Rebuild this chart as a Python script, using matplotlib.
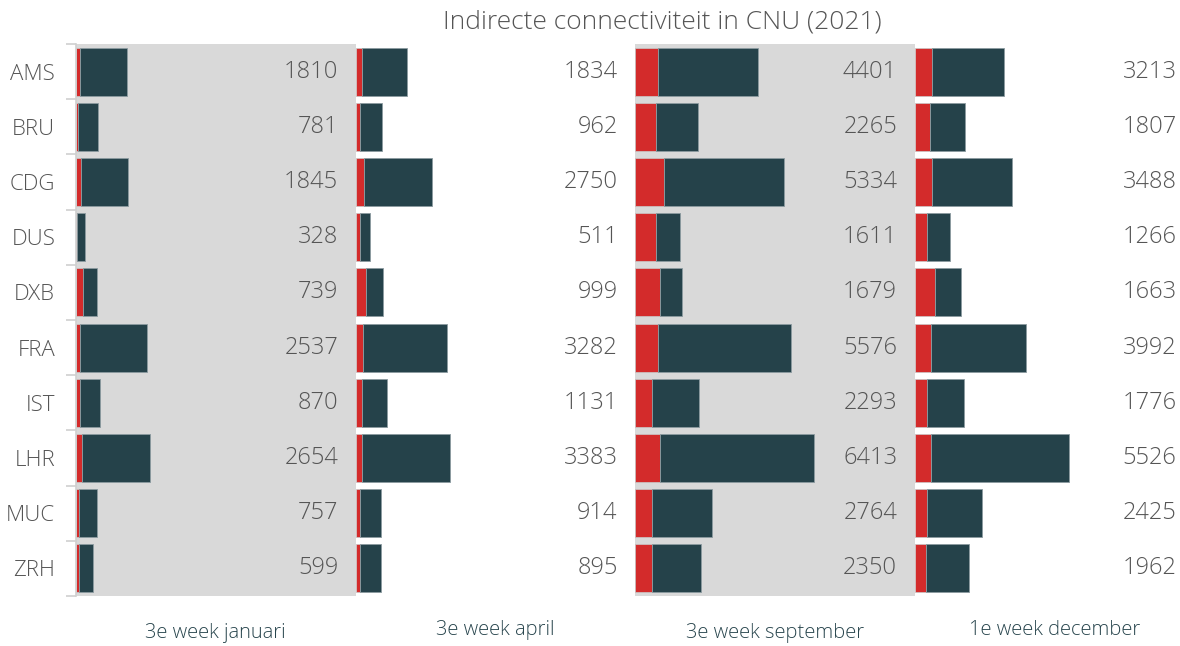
import matplotlib
matplotlib.use("Agg")
import matplotlib.pyplot as plt
import numpy as np

plt.rcParams['font.family'] = ['Open Sans', 'DejaVu Sans']
plt.rcParams['font.weight'] = 'light'

# data
airports = ['AMS', 'BRU', 'CDG', 'DUS', 'DXB', 'FRA', 'IST', 'LHR', 'MUC', 'ZRH']
periods = ['3e week januari', '3e week april', '3e week september', '1e week december']

totals_jan = [1810, 781, 1845, 328, 739, 2537, 870, 2654, 757, 599]
totals_apr = [1834, 962, 2750, 511, 999, 3282, 1131, 3383, 914, 895]
totals_sep = [4401, 2265, 5334, 1611, 1679, 5576, 2293, 6413, 2764, 2350]
totals_dec = [3213, 1807, 3488, 1266, 1663, 3992, 1776, 5526, 2425, 1962]

red_jan = [140, 70, 170, 45, 240, 130, 130, 200, 95, 95]
red_apr = [215, 155, 310, 165, 370, 275, 215, 250, 145, 155]
red_sep = [835, 765, 1030, 740, 885, 810, 595, 905, 595, 620]
red_dec = [635, 550, 610, 440, 750, 595, 465, 585, 440, 405]

totals = [totals_jan, totals_apr, totals_sep, totals_dec]
reds = [red_jan, red_apr, red_sep, red_dec]

RED = '#d32b2b'
TEAL = '#25424a'
GREY_BG = '#d9d9d9'
TXT = '#555555'

W, H = 1180, 646
fig = plt.figure(figsize=(W / 100, H / 100), dpi=100, facecolor='white')

left_px = [76, 355.5, 635, 914.5]
panel_w = 279.5
top_px, bot_px = 44, 596
label_y = [633, 630, 633, 630]

y = np.arange(len(airports))

for i in range(4):
    ax = fig.add_axes([left_px[i] / W, (H - bot_px) / H, panel_w / W, (bot_px - top_px) / H])
    ax.set_facecolor(GREY_BG if i % 2 == 0 else 'white')
    tot = np.array(totals[i])
    red = np.array(reds[i])
    ax.barh(y, red, height=0.87, color=RED, edgecolor='#c9c9c9', linewidth=0.5)
    ax.barh(y, tot - red, left=red, height=0.87, color=TEAL, edgecolor='#8c9ba0', linewidth=0.6)
    for yy, t in zip(y, tot):
        ax.text(9380, yy, str(t), ha='right', va='center', fontsize=17, color=TXT)
    ax.set_xlim(0, 10000)
    ax.set_ylim(9.5, -0.5)
    ax.set_xticks([])
    for s in ['top', 'right', 'bottom', 'left']:
        ax.spines[s].set_visible(False)
    if i == 0:
        ax.spines['left'].set_visible(True)
        ax.spines['left'].set_color('#d0d0d0')
        ax.spines['left'].set_linewidth(1.2)
        ax.set_yticks(y)
        ax.set_yticklabels(airports, fontsize=16, color=TXT)
        ax.tick_params(axis='y', which='major', length=0, pad=15)
        ax.set_yticks(np.arange(-0.5, 10, 1), minor=True)
        ax.tick_params(axis='y', which='minor', length=7, color='#d0d0d0', width=1.2)
    else:
        ax.set_yticks([])
    fig.text((left_px[i] + panel_w / 2) / W, 1 - label_y[i] / H, periods[i],
             ha='center', va='center', fontsize=14.5, color='#28454d')

fig.text(662 / W, 1 - 22 / H, 'Indirecte connectiviteit in CNU (2021)',
         ha='center', va='center', fontsize=19, color=TXT)

fig.savefig('out.png', dpi=100, facecolor='white')
